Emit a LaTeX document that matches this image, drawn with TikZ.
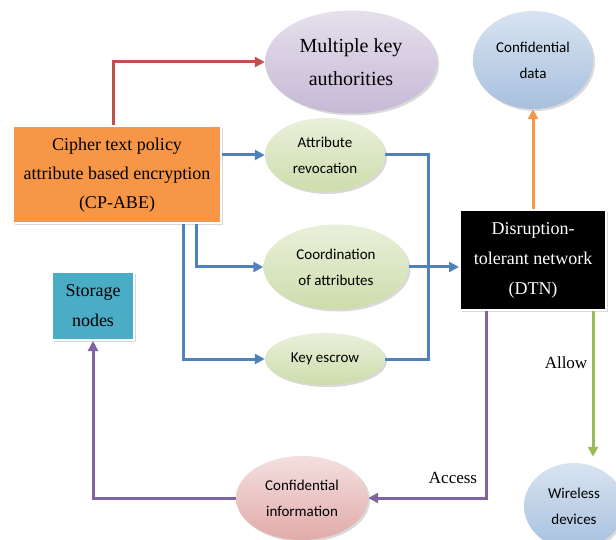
\documentclass[tikz,border=0pt]{standalone}
\usepackage{fontspec}
\setmainfont{Liberation Serif}
\newfontfamily\calibri{Carlito}
\usepackage{xcolor}
\usepackage{tikz}
\usetikzlibrary{arrows.meta,positioning,calc,shapes.geometric,shadows}

\definecolor{cpred}{HTML}{C0504D}
\definecolor{cpblue}{HTML}{4F81BD}
\definecolor{cporange}{HTML}{F79646}
\definecolor{cpgreen}{HTML}{9BBB59}
\definecolor{cppurple}{HTML}{8064A2}
\definecolor{cpteal}{HTML}{4BACC6}

\begin{document}
\begin{tikzpicture}[
 x=1pt,y=-1pt,
 oval/.style={ellipse,draw=none,align=center,inner sep=0pt,
              drop shadow={opacity=0.3,shadow xshift=2pt,shadow yshift=-2pt}},
 soft/.style={oval,font=\calibri\fontsize{15}{26}\selectfont},
 big/.style={oval,font=\fontsize{20}{33}\selectfont},
 rect/.style={draw=white,line width=2pt,align=center,inner sep=0pt,
              drop shadow={opacity=0.3,shadow xshift=2pt,shadow yshift=-2pt}},
 flow/.style={-{Triangle[length=10pt,width=10pt]},line width=3pt},
 line/.style={line width=3pt},
 label/.style={font=\fontsize{17}{20}\selectfont,inner sep=1pt}]
\useasboundingbox (0,0) rectangle (616,540);
% top row
\node[big,minimum width=172pt,minimum height=103pt,
      top color=cppurple!20,bottom color=cppurple!45] (keyauth) at (351,62)
 {Multiple key\\authorities};
\node[soft,minimum width=120pt,minimum height=98pt,
      top color=cpblue!22,bottom color=cpblue!50] (cdata) at (533,60)
 {Confidential\\data};
% left column
\node[rect,fill=cporange,minimum width=208pt,minimum height=97pt,
      font=\fontsize{18}{29}\selectfont] (cpabe) at (117,175)
 {Cipher text policy\\attribute based encryption\\(CP-ABE)};
\node[rect,fill=cpteal,minimum width=82pt,minimum height=68pt,
      font=\fontsize{18}{30}\selectfont] (storage) at (93,306)
 {Storage\\nodes};
% middle ovals
\node[soft,minimum width=120pt,minimum height=74pt,
      top color=cpgreen!22,bottom color=cpgreen!50] (revoke) at (325,155)
 {Attribute\\revocation};
\node[soft,minimum width=145pt,minimum height=85pt,
      top color=cpgreen!22,bottom color=cpgreen!50] (coord) at (336,267)
 {Coordination\\of attributes};
\node[soft,minimum width=120pt,minimum height=52pt,
      top color=cpgreen!22,bottom color=cpgreen!50] (escrow) at (325,359)
 {Key escrow};
% right side
\node[rect,fill=black,text=white,minimum width=146pt,minimum height=100pt,
      font=\fontsize{18}{30}\selectfont] (dtn) at (533,260)
 {Disruption-\\tolerant network\\(DTN)};
\node[soft,minimum width=100pt,minimum height=86pt,
      top color=cpblue!22,bottom color=cpblue!50] (wireless) at (574,506)
 {Wireless\\devices};
\node[soft,minimum width=132pt,minimum height=84pt,
      top color=cpred!18,bottom color=cpred!48] (cinfo) at (302,498)
 {Confidential\\information};
\node[label] (allow) at (566,363) {Allow};
\node[label] (access) at (453,478) {Access};
\coordinate (trunk) at (428,267);
% connectors
\draw[flow,draw=cpred,-{Triangle[length=10pt,width=10pt,fill=cpred]}]
 ($(cpabe.north)+(-4,0)$) |- (keyauth.west);
\draw[flow,draw=cpblue] (cpabe.east |- revoke.west) -- (revoke.west);
\draw[flow,draw=cpblue] ($(cpabe.south east)+(-26,0)$) |- (coord.west);
\draw[flow,draw=cpblue] ($(cpabe.south east)+(-39,0)$) |- (escrow.west);
\draw[line,draw=cpblue] (revoke.east) -| (trunk) |- (escrow.east);
\draw[flow,draw=cpblue] (coord.east) -- (coord.east -| dtn.west);
\draw[flow,draw=cporange] (dtn.north) -- (cdata.south);
\draw[flow,draw=cpgreen] ($(dtn.south east)+(-14,0)$) coordinate (g)
 -- ($(g |- wireless.north)+(0,-6)$);
\draw[flow,draw=cppurple] ($(dtn.south west)+(27,0)$) |- (cinfo.east);
\draw[flow,draw=cppurple] (cinfo.west) -| (storage.south);
\end{tikzpicture}
\end{document}
